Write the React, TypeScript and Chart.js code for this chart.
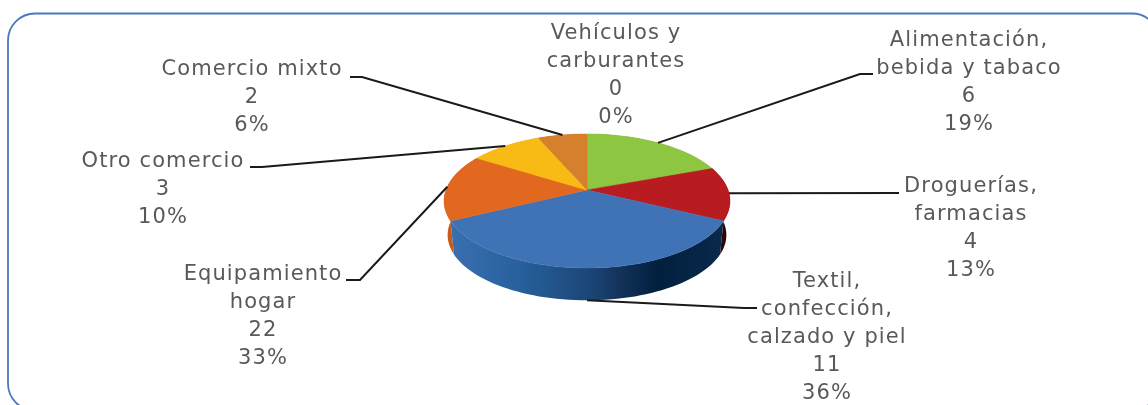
import React, { useEffect, useRef } from "react";
import { Chart, registerables } from "chart.js";

Chart.register(...registerables);

// ---- data ----
const categories = [
  "Alimentación, bebida y tabaco",
  "Droguerías, farmacias",
  "Textil, confección, calzado y piel",
  "Equipamiento hogar",
  "Otro comercio",
  "Comercio mixto",
  "Vehículos y carburantes",
];
const sliceValues = [6, 4, 11, 5, 3, 2, 0];
const valueLabels = ["6", "4", "11", "22", "3", "2", "0"];
const percentLabels = ["19%", "13%", "36%", "33%", "10%", "6%", "0%"];
const nameLines = [
  ["Alimentación,", "bebida y tabaco"],
  ["Droguerías,", "farmacias"],
  ["Textil,", "confección,", "calzado y piel"],
  ["Equipamiento", "hogar"],
  ["Otro comercio"],
  ["Comercio mixto"],
  ["Vehículos y", "carburantes"],
];

// ---- styles and layout ----
const topColors = ["#8dc641", "#b81c21", "#4072b6", "#e2671f", "#f8bb15", "#d67f2c", "#4f81bd"];
const wallStops: [number, string][][] = [
  [[0, "#6b9a30"], [1, "#6b9a30"]],
  [[0, "#5a0d10"], [1, "#2c0508"]],
  [[0, "#3a6faf"], [0.25, "#27609c"], [0.5, "#1b4678"], [0.62, "#13325a"], [0.75, "#021f3e"], [1, "#0a2a4c"]],
  [[0, "#c85a18"], [1, "#a84a12"]],
  [[0, "#c8940f"], [1, "#c8940f"]],
  [[0, "#a86222"], [1, "#a86222"]],
  [[0, "#3a6faf"], [1, "#3a6faf"]],
];
const CX = 587, CY = 190, R = 141, K = 65.2, P = 0.164, DEPTH = 33, BOTTOM_SCALE = 0.975;
const FONT = '21px "DejaVu Sans"';
const LETTER_SPACING = "1.1px";
const TEXT_COLOR = "#595959";
const LINE_H = 28;
const labelLayout = [
  { x: 969, y: 41 },
  { x: 971, y: 187 },
  { x: 827, y: 282 },
  { x: 263, y: 275 },
  { x: 163, y: 162 },
  { x: 252, y: 70 },
  { x: 616, y: 34 },
];
const leaderMid: number[][][] = [
  [[860, 74], [873, 74]],
  [[899, 193]],
  [[744, 308], [757, 308]],
  [[360, 280], [346, 280]],
  [[262, 167], [250, 167]],
  [[362, 77], [350, 77]],
  [],
];

function project(theta: number, bottom = false): [number, number] {
  const u = Math.sin(theta), v = Math.cos(theta);
  const s = 1 / (1 + P * v);
  const x = R * u * s, y = -K * v * s;
  if (bottom) return [CX + x * BOTTOM_SCALE, CY + y * BOTTOM_SCALE + DEPTH + 1.3];
  return [CX + x, CY + y];
}

const pie3d = {
  id: "pie3d",
  beforeDatasetDraw(chart: any) {
    const ctx = chart.ctx as CanvasRenderingContext2D;
    const arcs = chart.getDatasetMeta(0).data;
    const angles = arcs.map((a: any) => [a.startAngle + Math.PI / 2, a.endAngle + Math.PI / 2]);
    const N = 60;
    ctx.save();
    // side wall
    [0, 1, 4, 5, 3, 2].forEach((i) => {
      const [a0, a1] = angles[i];
      if (a1 - a0 < 1e-4) return;
      ctx.beginPath();
      for (let k = 0; k <= N; k++) {
        const [x, y] = project(a0 + ((a1 - a0) * k) / N);
        k ? ctx.lineTo(x, y) : ctx.moveTo(x, y);
      }
      for (let k = N; k >= 0; k--) {
        const [x, y] = project(a0 + ((a1 - a0) * k) / N, true);
        ctx.lineTo(x, y);
      }
      ctx.closePath();
      const g = ctx.createLinearGradient(CX - 135, 0, CX + 138, 0);
      wallStops[i].forEach(([o, c]) => g.addColorStop(o, c));
      ctx.fillStyle = g;
      ctx.fill();
    });
    // top face
    angles.forEach(([a0, a1]: number[], i: number) => {
      if (a1 - a0 < 1e-4) return;
      ctx.beginPath();
      ctx.moveTo(CX, CY);
      for (let k = 0; k <= N; k++) {
        const [x, y] = project(a0 + ((a1 - a0) * k) / N);
        ctx.lineTo(x, y);
      }
      ctx.closePath();
      ctx.fillStyle = topColors[i];
      ctx.strokeStyle = topColors[i];
      ctx.lineWidth = 0.5;
      ctx.fill();
      ctx.stroke();
    });
    ctx.restore();
    return false;
  },
  afterDraw(chart: any) {
    const ctx = chart.ctx as CanvasRenderingContext2D;
    const arcs = chart.getDatasetMeta(0).data;
    ctx.save();
    // frame
    ctx.strokeStyle = "#4a78bc";
    ctx.lineWidth = 1.8;
    ctx.beginPath();
    ctx.roundRect(8, 13.5, 1151, 397, 27);
    ctx.stroke();
    // leader lines
    ctx.strokeStyle = "#1a1a1a";
    ctx.lineWidth = 2;
    arcs.forEach((a: any, i: number) => {
      const mid = leaderMid[i];
      if (!mid.length) return;
      const theta = (a.startAngle + a.endAngle) / 2 + Math.PI / 2;
      const isFront = Math.cos(theta) < -0.9;
      const [sx, sy] = project(theta, isFront);
      ctx.beginPath();
      ctx.moveTo(sx, sy);
      mid.forEach(([x, y]) => ctx.lineTo(x, y));
      ctx.stroke();
    });
    // labels
    ctx.font = FONT;
    (ctx as any).letterSpacing = LETTER_SPACING;
    ctx.fillStyle = TEXT_COLOR;
    ctx.textAlign = "center";
    ctx.textBaseline = "middle";
    nameLines.forEach((lines, i) => {
      const all = [...lines, valueLabels[i], percentLabels[i]];
      const { x, y } = labelLayout[i];
      all.forEach((t, j) => ctx.fillText(t, x, y + j * LINE_H));
    });
    ctx.restore();
  },
};

export default function App() {
  const ref = useRef<HTMLCanvasElement>(null);
  useEffect(() => {
    document.body.style.margin = "0";
    document.body.style.overflow = "hidden";
    const chart = new Chart(ref.current!, {
      type: "pie",
      data: {
        labels: categories,
        datasets: [{ data: sliceValues, backgroundColor: topColors, borderWidth: 0 }],
      },
      options: {
        responsive: false,
        animation: false,
        plugins: { legend: { display: false }, tooltip: { enabled: false } },
      },
      plugins: [pie3d],
    } as any);
    return () => chart.destroy();
  }, []);
  return <canvas ref={ref} width={1148} height={405} style={{ display: "block", width: 1148, height: 405 }} />;
}
